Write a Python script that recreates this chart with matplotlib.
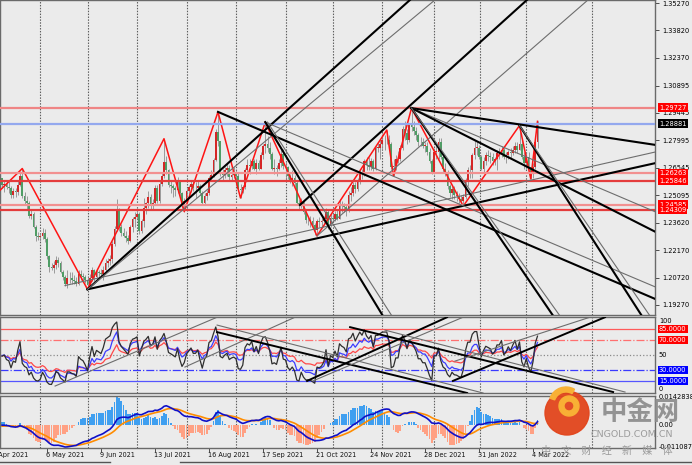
import numpy as np
import pandas as pd
import matplotlib.pyplot as plt
import matplotlib.transforms as mtransforms
from matplotlib.patches import Circle, Wedge

plt.rcParams['font.family'] = ['DejaVu Sans']
plt.rcParams['font.size'] = 4.8

W, H = 692, 465
BG = '#ebebeb'

# daily closes before the first visible bar (only used to warm up RSI / MACD)
pre_close = [1.2600, 1.2670, 1.2740, 1.2640, 1.2640, 1.2640, 1.2680, 1.2650, 1.2700, 1.2660,
             1.2620, 1.2530, 1.2460, 1.2470, 1.2470, 1.2390, 1.2480, 1.2470, 1.2520, 1.2580,
             1.2550, 1.2580, 1.2570, 1.2600, 1.2610, 1.2570, 1.2560, 1.2560, 1.2600, 1.2550,
             1.2600]

# visible bars, 8 Apr 2021 .. 8 Mar 2022
close = [1.2565, 1.2570, 1.2550, 1.2545, 1.2510, 1.2530, 1.2525, 1.2565, 1.2610, 1.2505,
         1.2480, 1.2470, 1.2400, 1.2410, 1.2340, 1.2295, 1.2285, 1.2290, 1.2310, 1.2275,
         1.2185, 1.2130, 1.2125, 1.2140, 1.2165, 1.2150, 1.2100, 1.2075, 1.2040, 1.2070,
         1.2070, 1.2060, 1.2055, 1.2040, 1.2090, 1.2080, 1.2075, 1.2060, 1.2035, 1.2070,
         1.2110, 1.2075, 1.2100, 1.2095, 1.2090, 1.2110, 1.2150, 1.2160, 1.2170, 1.2250,
         1.2330, 1.2435, 1.2340, 1.2310, 1.2295, 1.2280, 1.2265, 1.2340, 1.2385, 1.2395,
         1.2410, 1.2320, 1.2370, 1.2440, 1.2465, 1.2500, 1.2455, 1.2470, 1.2545, 1.2480,
         1.2570, 1.2610, 1.2685, 1.2640, 1.2565, 1.2555, 1.2545, 1.2535, 1.2585, 1.2520,
         1.2460, 1.2480, 1.2530, 1.2550, 1.2570, 1.2545, 1.2545, 1.2560, 1.2520, 1.2470,
         1.2505, 1.2520, 1.2600, 1.2615, 1.2695, 1.2845, 1.2795, 1.2630, 1.2615, 1.2640,
         1.2655, 1.2605, 1.2615, 1.2620, 1.2610, 1.2540, 1.2535, 1.2550, 1.2640, 1.2670,
         1.2665, 1.2690, 1.2650, 1.2680, 1.2650, 1.2720, 1.2770, 1.2780, 1.2760, 1.2725,
         1.2650, 1.2655, 1.2645, 1.2680, 1.2725, 1.2665, 1.2660, 1.2610, 1.2590, 1.2600,
         1.2575, 1.2465, 1.2450, 1.2480, 1.2420, 1.2375, 1.2375, 1.2370, 1.2350, 1.2325,
         1.2370, 1.2365, 1.2370, 1.2380, 1.2420, 1.2345, 1.2390, 1.2380, 1.2410, 1.2385,
         1.2460, 1.2450, 1.2445, 1.2430, 1.2510, 1.2520, 1.2565, 1.2540, 1.2580, 1.2630,
         1.2620, 1.2690, 1.2670, 1.2660, 1.2690, 1.2650, 1.2760, 1.2760, 1.2780, 1.2800,
         1.2800, 1.2800, 1.2780, 1.2660, 1.2665, 1.2700, 1.2700, 1.2760, 1.2860, 1.2840,
         1.2800, 1.2880, 1.2870, 1.2850, 1.2830, 1.2790, 1.2790, 1.2770, 1.2770, 1.2740,
         1.2690, 1.2630, 1.2740, 1.2740, 1.2790, 1.2710, 1.2650, 1.2630, 1.2560, 1.2520,
         1.2540, 1.2510, 1.2505, 1.2490, 1.2480, 1.2500, 1.2580, 1.2640, 1.2640, 1.2720,
         1.2760, 1.2760, 1.2710, 1.2650, 1.2690, 1.2720, 1.2715, 1.2710, 1.2690, 1.2700,
         1.2730, 1.2730, 1.2750, 1.2710, 1.2720, 1.2740, 1.2730, 1.2750, 1.2770, 1.2750,
         1.2780, 1.2710, 1.2680, 1.2710, 1.2660, 1.2620, 1.2660, 1.2790, 1.28881]

high = [1.2600, 1.2590, 1.2590, 1.2585, 1.2560, 1.2545, 1.2545, 1.2590, 1.2635, 1.2650,
        1.2525, 1.2505, 1.2480, 1.2435, 1.2420, 1.2350, 1.2315, 1.2310, 1.2335, 1.2330,
        1.2285, 1.2190, 1.2150, 1.2160, 1.2185, 1.2180, 1.2160, 1.2115, 1.2085, 1.2110,
        1.2100, 1.2100, 1.2085, 1.2075, 1.2110, 1.2110, 1.2095, 1.2085, 1.2075, 1.2090,
        1.2130, 1.2120, 1.2110, 1.2115, 1.2120, 1.2135, 1.2170, 1.2175, 1.2190, 1.2265,
        1.2345, 1.2487, 1.2440, 1.2355, 1.2335, 1.2320, 1.2300, 1.2350, 1.2395, 1.2420,
        1.2430, 1.2420, 1.2380, 1.2495, 1.2475, 1.2530, 1.2515, 1.2490, 1.2565, 1.2565,
        1.2585, 1.2630, 1.2808, 1.2715, 1.2650, 1.2590, 1.2570, 1.2560, 1.2605, 1.2590,
        1.2525, 1.2495, 1.2545, 1.2565, 1.2585, 1.2590, 1.2580, 1.2585, 1.2570, 1.2530,
        1.2520, 1.2535, 1.2610, 1.2640, 1.2705, 1.2860, 1.2950, 1.2795, 1.2650, 1.2660,
        1.2680, 1.2670, 1.2635, 1.2660, 1.2640, 1.2625, 1.2570, 1.2565, 1.2655, 1.2700,
        1.2700, 1.2700, 1.2700, 1.2700, 1.2695, 1.2735, 1.2780, 1.2896, 1.2820, 1.2790,
        1.2735, 1.2700, 1.2670, 1.2700, 1.2750, 1.2755, 1.2690, 1.2665, 1.2620, 1.2640,
        1.2615, 1.2585, 1.2490, 1.2495, 1.2485, 1.2425, 1.2395, 1.2400, 1.2395, 1.2360,
        1.2385, 1.2395, 1.2390, 1.2400, 1.2440, 1.2430, 1.2410, 1.2415, 1.2425, 1.2430,
        1.2490, 1.2480, 1.2470, 1.2460, 1.2530, 1.2550, 1.2580, 1.2580, 1.2600, 1.2645,
        1.2645, 1.2700, 1.2710, 1.2710, 1.2705, 1.2700, 1.2770, 1.2790, 1.2800, 1.2835,
        1.2830, 1.2854, 1.2830, 1.2790, 1.2700, 1.2720, 1.2745, 1.2775, 1.2875, 1.2900,
        1.2860, 1.2890, 1.2970, 1.2900, 1.2870, 1.2840, 1.2815, 1.2810, 1.2790, 1.2790,
        1.2760, 1.2700, 1.2760, 1.2770, 1.2810, 1.2810, 1.2730, 1.2680, 1.2640, 1.2570,
        1.2560, 1.2560, 1.2530, 1.2520, 1.2510, 1.2515, 1.2600, 1.2660, 1.2670, 1.2730,
        1.2795, 1.2790, 1.2775, 1.2720, 1.2710, 1.2740, 1.2750, 1.2740, 1.2730, 1.2710,
        1.2750, 1.2760, 1.2770, 1.2760, 1.2740, 1.2750, 1.2760, 1.2770, 1.2790, 1.2790,
        1.2878, 1.2800, 1.2740, 1.2730, 1.2740, 1.2660, 1.2680, 1.2800, 1.2900]

low = [1.2545, 1.2525, 1.2540, 1.2520, 1.2495, 1.2495, 1.2500, 1.2510, 1.2560, 1.2495,
       1.2460, 1.2435, 1.2390, 1.2385, 1.2335, 1.2265, 1.2270, 1.2265, 1.2275, 1.2260,
       1.2170, 1.2100, 1.2110, 1.2095, 1.2120, 1.2130, 1.2095, 1.2060, 1.2030, 1.2015,
       1.2045, 1.2040, 1.2040, 1.2025, 1.2035, 1.2060, 1.2050, 1.2045, 1.2010, 1.2025,
       1.2055, 1.2055, 1.2065, 1.2075, 1.2075, 1.2060, 1.2095, 1.2130, 1.2140, 1.2150,
       1.2240, 1.2320, 1.2320, 1.2295, 1.2285, 1.2260, 1.2250, 1.2260, 1.2315, 1.2340,
       1.2380, 1.2305, 1.2310, 1.2340, 1.2410, 1.2440, 1.2430, 1.2430, 1.2460, 1.2465,
       1.2470, 1.2555, 1.2600, 1.2620, 1.2550, 1.2520, 1.2500, 1.2505, 1.2520, 1.2505,
       1.2440, 1.2422, 1.2465, 1.2505, 1.2525, 1.2530, 1.2495, 1.2535, 1.2510, 1.2460,
       1.2460, 1.2485, 1.2510, 1.2585, 1.2605, 1.2690, 1.2770, 1.2610, 1.2590, 1.2600,
       1.2610, 1.2590, 1.2585, 1.2600, 1.2560, 1.2535, 1.2494, 1.2520, 1.2540, 1.2625,
       1.2620, 1.2650, 1.2640, 1.2620, 1.2640, 1.2650, 1.2700, 1.2730, 1.2740, 1.2700,
       1.2640, 1.2620, 1.2610, 1.2640, 1.2660, 1.2650, 1.2600, 1.2595, 1.2575, 1.2560,
       1.2550, 1.2460, 1.2430, 1.2440, 1.2410, 1.2360, 1.2350, 1.2340, 1.2340, 1.2300,
       1.2293, 1.2340, 1.2340, 1.2355, 1.2360, 1.2330, 1.2340, 1.2365, 1.2370, 1.2375,
       1.2380, 1.2420, 1.2420, 1.2400, 1.2420, 1.2480, 1.2505, 1.2520, 1.2530, 1.2570,
       1.2595, 1.2610, 1.2640, 1.2640, 1.2640, 1.2635, 1.2640, 1.2735, 1.2700, 1.2750,
       1.2750, 1.2780, 1.2760, 1.2650, 1.2610, 1.2640, 1.2680, 1.2690, 1.2750, 1.2800,
       1.2780, 1.2790, 1.2850, 1.2830, 1.2800, 1.2770, 1.2770, 1.2760, 1.2740, 1.2720,
       1.2680, 1.2620, 1.2620, 1.2700, 1.2700, 1.2700, 1.2630, 1.2610, 1.2540, 1.2500,
       1.2490, 1.2490, 1.2480, 1.2470, 1.2460, 1.2451, 1.2490, 1.2560, 1.2600, 1.2600,
       1.2700, 1.2720, 1.2700, 1.2640, 1.2630, 1.2670, 1.2690, 1.2680, 1.2670, 1.2670,
       1.2640, 1.2700, 1.2710, 1.2700, 1.2680, 1.2700, 1.2700, 1.2720, 1.2730, 1.2730,
       1.2750, 1.2700, 1.2650, 1.2650, 1.2640, 1.2595, 1.2600, 1.2650, 1.2760]

# zigzag pivots (bar index, price)
zz_bar = [-3, 9, 38, 72, 81, 96, 106, 117, 140, 171, 174, 182, 205, 230, 235, 238]
zz_price = [1.2510, 1.2650, 1.2010, 1.2808, 1.2422, 1.2950, 1.2494, 1.2896, 1.2293,
            1.2854, 1.2610, 1.2970, 1.2451, 1.2878, 1.2595, 1.2900]

# hand drawn trend lines on the price chart: bar1, price1, bar2, price2, thick
price_lines = [
    (38, 1.2010, 290.5, 1.2679, True),
    (28, 1.2030, 290.5, 1.2738, False),
    (38, 1.2010, 181.3, 1.3543, True),
    (38, 1.2010, 192.4, 1.3543, False),
    (132.4, 1.2457, 233.3, 1.3543, True),
    (140, 1.2293, 260.4, 1.3543, False),
    (96, 1.2950, 290.5, 1.1958, True),
    (117, 1.2896, 290.5, 1.2022, False),
    (182, 1.2970, 290.5, 1.2775, True),
    (182, 1.2970, 290.5, 1.2420, False),
    (182, 1.2970, 290.5, 1.2314, True),
    (182, 1.2970, 245.0, 1.1869, True),
    (182, 1.2970, 248.0, 1.1869, False),
    (117, 1.2896, 169.3, 1.1869, True),
    (118, 1.2896, 173.3, 1.1869, False),
    (230, 1.2878, 284.4, 1.1869, True),
    (230, 1.2878, 288.0, 1.1869, False),
]

# trend lines in the oscillator window: bar1, value1, bar2, value2, thick
osc_lines = [
    (23.6, 8.2, 95.6, 101, False),
    (81.3, 33.8, 132.4, 104, False),
    (95.6, 80.9, 206.7, -1.2, True),
    (95.6, 90.4, 213.8, -1.2, False),
    (135.6, 15.1, 197.8, 101, True),
    (138.2, 15.1, 204.9, 101, False),
    (154.7, 87.6, 271.6, 0.1, True),
    (170.2, 83.6, 276.9, 0.1, False),
    (200.4, 15.1, 268.0, 101, True),
    (201.3, 41.8, 261.3, 101, False),
]

# horizontal levels on the price chart
level_price = [1.29727, 1.28881, 1.26263, 1.25846, 1.24585, 1.24309]
level_color = ['#ef8585', '#93a8ee', '#f29090', '#e43c3c', '#f29090', '#e43c3c']
level_box = ['#ff0000', '#000000', '#ff0000', '#ff0000', '#ff0000', '#ff0000']

osc_level = [85, 70, 50, 30, 15]
osc_level_label = ['85.0000', '70.0000', None, '30.0000', '15.0000']

price_ticks = [1.35270, 1.33820, 1.32370, 1.30895, 1.29445, 1.27995, 1.26545,
               1.25095, 1.23620, 1.22170, 1.20720, 1.19270]

date_bars = [-4, 20, 44, 68, 92, 116, 140, 164, 188, 212, 236]
date_labels = ['2 Apr 2021', '6 May 2021', '9 Jun 2021', '13 Jul 2021', '16 Aug 2021',
               '17 Sep 2021', '21 Oct 2021', '24 Nov 2021', '28 Dec 2021',
               '31 Jan 2022', '4 Mar 2022']
grid_bars = [17, 38, 60, 82, 104, 126, 147, 169, 192, 212.5, 233, 262.2]

macd_labels = ['0.0142838', '0.00', '-0.0110875']
macd_label_vals = [0.0142838, 0.0, -0.0110875]

# ---- indicators ----
allc = pd.Series(pre_close + close)
npre = len(pre_close)


def rsi(s, n):
    d = s.diff().fillna(0)
    au = d.clip(lower=0).ewm(alpha=1 / n, adjust=False).mean()
    ad = (-d.clip(upper=0)).ewm(alpha=1 / n, adjust=False).mean()
    return (100 - 100 / (1 + au / ad)).to_numpy()[npre:]


rsi_fast = rsi(allc, 6)
rsi_mid = rsi(allc, 12)
rsi_slow = rsi(allc, 24)

macd = allc.ewm(span=12, adjust=False).mean() - allc.ewm(span=26, adjust=False).mean()
signal = macd.ewm(span=9, adjust=False).mean()
hist = ((macd - signal) * 3.3).to_numpy()[npre:]
macd = macd.to_numpy()[npre:]
signal = signal.to_numpy()[npre:]

close = np.array(close)
high = np.array(high)
low = np.array(low)
opens = np.r_[pre_close[-1], close[:-1]]
x = np.arange(len(close))

# ---- figure ----
fig = plt.figure(figsize=(W / 100, H / 100), dpi=100, facecolor=BG)


def panel(top, bottom):
    a = fig.add_axes([0, 1 - bottom / H, 655 / W, (bottom - top) / H], facecolor=BG)
    a.set_xlim(-0.89, 290.22)
    for sp in a.spines.values():
        sp.set_color('#6a6a6a')
        sp.set_linewidth(1.0)
    a.tick_params(axis='x', bottom=False, labelbottom=False)
    for b in grid_bars:
        a.axvline(b, color='#5e5e5e', lw=0.8, ls=(0, (1.3, 1.3)), zorder=0.8)
    return a


ax = panel(0, 315)
ax_osc = panel(317, 393)
ax_macd = panel(396, 448)

# price panel
ax.set_ylim(1.18740, 1.35429)
ax.yaxis.tick_right()
ax.set_yticks(price_ticks)
ax.set_yticklabels(['%.5f' % v for v in price_ticks])
ax.tick_params(axis='y', length=3, width=0.6, pad=2, labelsize=4.8, color='#333333')

bull = close >= opens
ax.vlines(x, low, high, color='#8d8d8d', lw=0.6, zorder=2)
ax.bar(x, np.maximum(np.abs(close - opens), 0.00025), bottom=np.minimum(close, opens),
       width=0.72, color=np.where(bull, '#d52626', '#4f9d65'), lw=0, zorder=2.5)

ax.plot(zz_bar, zz_price, color='#ff1414', lw=1.1, zorder=3.5)

for x1, p1, x2, p2, thick in price_lines:
    ax.plot([x1, x2], [p1, p2], color='#000000' if thick else '#6d6d6d',
            lw=1.5 if thick else 0.8, zorder=4)

tr = mtransforms.blended_transform_factory(ax.transAxes, ax.transData)
for p, c, bc in zip(level_price, level_color, level_box):
    ax.axhline(p, color=c, lw=1.6, zorder=3.8)
    ax.text(1.006, p, '%.5f' % p, transform=tr, color='white', fontsize=4.8,
            va='center', ha='left', clip_on=False, zorder=10,
            bbox=dict(boxstyle='square,pad=0.18', fc=bc, ec='none'))

# oscillator panel
ax_osc.set_ylim(-1.2, 101.3)
ax_osc.set_yticks([])
styles = {85: ('#ff5a5a', '-'), 70: ('#ff7070', '-.'), 50: ('#8a8a8a', ':'),
          30: ('#3a3aff', '-.'), 15: ('#5555ff', '-')}
tro = mtransforms.blended_transform_factory(ax_osc.transAxes, ax_osc.transData)
for lv, lab in zip(osc_level, osc_level_label):
    col, ls = styles[lv]
    ax_osc.axhline(lv, color=col, lw=0.9, ls=ls, zorder=1)
    if lab:
        ax_osc.text(1.006, lv, lab, transform=tro, color='white', fontsize=4.8,
                    va='center', ha='left', clip_on=False, zorder=10,
                    bbox=dict(boxstyle='square,pad=0.18',
                              fc='#ff0000' if lv > 50 else '#0000ff', ec='none'))
ax_osc.text(1.006, 100, '100', transform=tro, va='top', ha='left', clip_on=False)
ax_osc.text(1.006, 50, '50', transform=tro, va='center', ha='left', clip_on=False)
ax_osc.text(1.006, 0, '0', transform=tro, va='bottom', ha='left', clip_on=False)

ax_osc.plot(x, rsi_slow, color='#ff4848', lw=0.9, zorder=2)
ax_osc.plot(x, rsi_mid, color='#3c3cff', lw=0.9, zorder=2.1)
ax_osc.plot(x, rsi_fast, color='#2e2e2e', lw=0.9, zorder=2.2)
for x1, v1, x2, v2, thick in osc_lines:
    ax_osc.plot([x1, x2], [v1, v2], color='#000000' if thick else '#6d6d6d',
                lw=1.4 if thick else 0.8, zorder=4)

# MACD panel
ax_macd.set_ylim(-0.0118, 0.0150)
ax_macd.set_yticks([])
ax_macd.bar(x, hist, width=0.7, color=np.where(hist >= 0, '#3f9ff0', '#ffa083'), lw=0, zorder=1.5)
ax_macd.plot(x, signal, color='#ff8c00', lw=1.2, zorder=2)
ax_macd.plot(x, macd, color='#1010c8', lw=1.2, zorder=2.1)
trm = mtransforms.blended_transform_factory(ax_macd.transAxes, ax_macd.transData)
for v, lab in zip(macd_label_vals, macd_labels):
    ax_macd.text(1.006, v, lab, transform=trm, va='center', ha='left', clip_on=False)

# date axis: small ticks, labels start at the tick and run to the right
ax_macd.tick_params(axis='x', bottom=True, labelbottom=False, length=3, width=0.6,
                    color='#333333')
ax_macd.set_xticks(date_bars[1:])
trd = mtransforms.blended_transform_factory(ax_macd.transData, ax_macd.transAxes)
for b, lab in zip(date_bars, date_labels):
    ax_macd.text(b - 0.3, -0.08, lab, transform=trd, fontsize=4.7, ha='left', va='top',
                 color='#111111', clip_on=False)

# watermark and window edge
over = fig.add_axes([0, 0, 1, 1])
over.set_xlim(0, W)
over.set_ylim(H, 0)
over.axis('off')
over.set_zorder(20)
over.plot([0, 110], [462, 462], color='#555555', lw=1)
over.plot([180, W], [462, 462], color='#555555', lw=1)
over.add_patch(Circle((567, 413), 22, color='#e2451c', alpha=0.95))
over.add_patch(Wedge((569, 406), 10, 0, 360, width=5, color='#f8b035'))
over.add_patch(Wedge((566, 404), 17, 200, 300, width=5, color='#f8b035'))
over.text(640, 412, '中金网', fontsize=19, fontweight='bold', color='#8a8a8a', alpha=0.9,
          ha='center', va='center', family=['Noto Sans CJK SC', 'DejaVu Sans'])
over.text(632, 434, 'CNGOLD.COM.CN', fontsize=6.8, color='#9c9c9c', ha='center', va='center')
over.text(607, 451, '中\u3000文\u3000财\u3000经\u3000新\u3000媒\u3000体', fontsize=7.3,
          color='#9a9a9a', ha='center', va='center', family=['Noto Sans CJK SC', 'DejaVu Sans'])

fig.savefig('out.png', dpi=100, facecolor=BG)
